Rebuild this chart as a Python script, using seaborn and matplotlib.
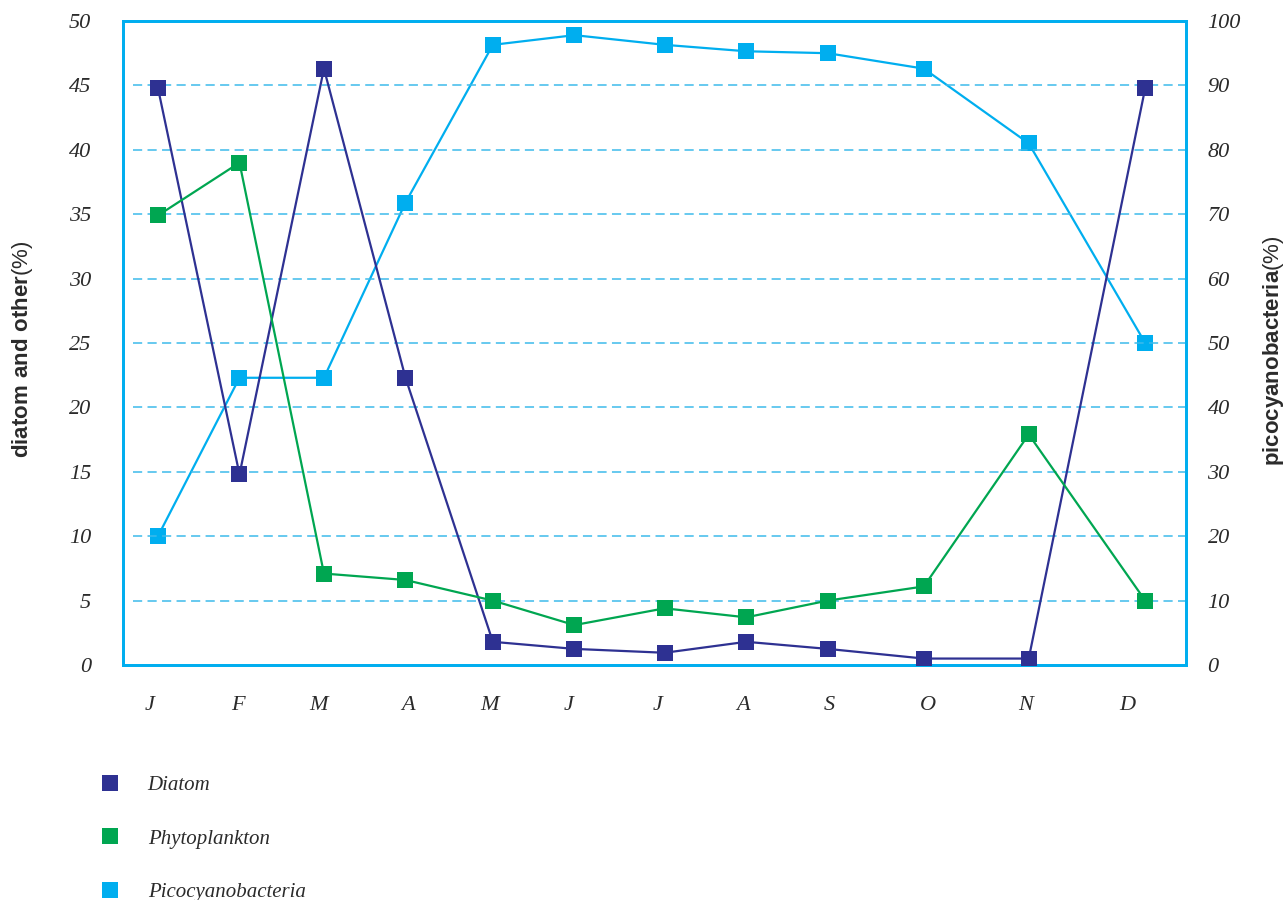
import matplotlib
matplotlib.use("Agg")
import matplotlib.pyplot as plt
from matplotlib.lines import Line2D
import seaborn as sns
import pandas as pd

# ---- data ----
sample_day = [12, 40, 69, 97, 127, 155, 186, 214, 242, 275, 311, 351]
month_tick_pos = [9, 39.5, 67, 98, 126, 153, 183.5, 213, 242.5, 276.5, 310, 345]
month_labels = ["J", "F", "M", "A", "M", "J", "J", "A", "S", "O", "N", "D"]
diatom = [44.8, 14.8, 46.3, 22.3, 1.8, 1.25, 0.95, 1.8, 1.25, 0.5, 0.5, 44.8]
phytoplankton = [34.9, 39.0, 7.1, 6.6, 5.0, 3.1, 4.4, 3.7, 5.0, 6.1, 17.9, 5.0]
picocyanobacteria = [20.0, 44.6, 44.6, 71.8, 96.3, 97.8, 96.3, 95.3, 95.0, 92.6, 81.0, 50.0]

c_diatom = "#2E3192"
c_phyto = "#00A651"
c_pico = "#00AEEF"
c_grid = "#3DBBEB"
c_text = "#2b2b2b"

sns.set_style("white")
plt.rcParams["mathtext.fontset"] = "custom"
plt.rcParams["mathtext.bf"] = "Liberation Sans:bold"
plt.rcParams["mathtext.rm"] = "Liberation Sans"

fig = plt.figure(figsize=(12.85, 9.0), dpi=100)
ax = fig.add_axes([123 / 1285, 1 - 665 / 900, (1186 - 123) / 1285, (665 - 21) / 900])
ax2 = ax.twinx()

df_left = pd.DataFrame({
    "day": sample_day * 2,
    "value": diatom + phytoplankton,
    "series": ["Diatom"] * len(diatom) + ["Phytoplankton"] * len(phytoplankton),
})
df_right = pd.DataFrame({"day": sample_day, "value": picocyanobacteria})

ms = 11
sns.lineplot(data=df_right, x="day", y="value", ax=ax2, color=c_pico, marker="s",
             markersize=ms, markeredgewidth=0, linewidth=1.6, legend=False, zorder=3)
sns.lineplot(data=df_left, x="day", y="value", hue="series", ax=ax,
             palette={"Diatom": c_diatom, "Phytoplankton": c_phyto}, marker="s",
             markersize=ms, markeredgewidth=0, linewidth=1.6, legend=False, zorder=4)

ax.set_zorder(ax2.get_zorder() + 1)
ax.patch.set_visible(False)

ax.set_xlim(0, 365)
ax.set_ylim(0, 50)
ax2.set_ylim(0, 100)

ax.set_yticks(range(0, 51, 5))
ax2.set_yticks(range(0, 101, 10))
ax.set_xticks(month_tick_pos)
ax.set_xticklabels(month_labels)

for lab in ax.get_yticklabels() + ax2.get_yticklabels() + ax.get_xticklabels():
    lab.set_fontfamily("Liberation Serif")
    lab.set_fontstyle("italic")
    lab.set_fontsize(16)
    lab.set_color(c_text)

ax.tick_params(axis="y", length=0, pad=23)
ax2.tick_params(axis="y", length=0, pad=15.5)
ax.tick_params(axis="x", length=0, pad=22)

for v in range(5, 50, 5):
    ax.axhline(v, xmin=0.009, xmax=1.0, color=c_grid, linestyle=(0, (6, 3.5)),
               linewidth=1.1, zorder=1)

for a in (ax, ax2):
    for s in a.spines.values():
        s.set_color(c_pico)
        s.set_linewidth(2)
    a.set_xlabel("")
    a.set_ylabel("")

fig.text(23 / 1285, 1 - 349 / 900, r"$\mathbf{diatom\ and\ other}$(%)", rotation=90,
         ha="center", va="center", fontsize=16, family="Liberation Sans", color=c_text)
fig.text(1273 / 1285, 1 - 351 / 900, r"$\mathbf{picocyanobacteria}$(%)", rotation=90,
         ha="center", va="center", fontsize=16, family="Liberation Sans", color=c_text)

handles = [Line2D([], [], linestyle="none", marker="s", markersize=11, markeredgewidth=0, color=c)
           for c in (c_diatom, c_phyto, c_pico)]
leg = fig.legend(handles, ["Diatom", "Phytoplankton", "Picocyanobacteria"],
                 loc="upper left", bbox_to_anchor=(81 / 1285, 1 - 757 / 900),
                 frameon=False, labelspacing=1.62, handletextpad=1.3, handlelength=1.0,
                 prop=dict(family="Liberation Serif", style="italic", size=15))
for t in leg.get_texts():
    t.set_color(c_text)

fig.savefig("out.png", dpi=100)
